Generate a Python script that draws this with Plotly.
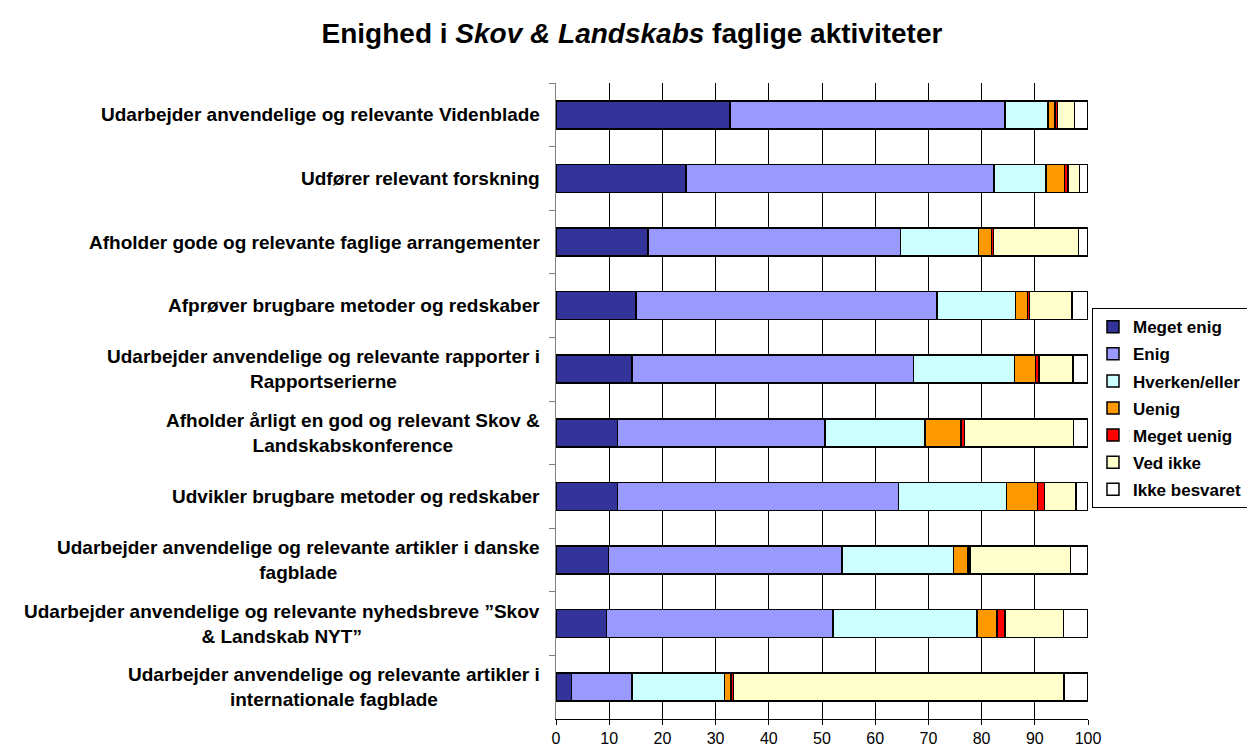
import plotly.graph_objects as go

# activities, top to bottom
labels = [
    "Udarbejder anvendelige og relevante Videnblade",
    "Udfører relevant forskning",
    "Afholder gode og relevante faglige arrangementer",
    "Afprøver brugbare metoder og redskaber",
    "Udarbejder anvendelige og relevante rapporter i<br>Rapportserierne",
    "Afholder årligt en god og relevant Skov &<br>Landskabskonference",
    "Udvikler brugbare metoder og redskaber",
    "Udarbejder anvendelige og relevante artikler i danske<br>fagblade",
    "Udarbejder anvendelige og relevante nyhedsbreve \u201dSkov<br>& Landskab NYT\u201d",
    "Udarbejder anvendelige og relevante artikler i<br>internationale fagblade",
]

meget_enig = [32.7, 24.4, 17.3, 15.0, 14.3, 11.6, 11.6, 9.9, 9.5, 2.9]
enig = [51.7, 57.9, 47.5, 56.6, 52.9, 39.0, 52.8, 43.9, 42.6, 11.4]
hverken = [8.1, 9.8, 14.6, 14.8, 19.0, 18.8, 20.3, 20.9, 27.0, 17.4]
uenig = [1.3, 3.5, 2.5, 2.2, 3.9, 6.7, 5.8, 2.7, 3.8, 1.2]
meget_uenig = [0.5, 0.6, 0.3, 0.4, 0.7, 0.7, 1.3, 0.4, 1.5, 0.5]
ved_ikke = [3.2, 2.2, 16.0, 8.0, 6.4, 20.5, 5.9, 18.9, 11.0, 62.1]
ikke_besvaret = [2.5, 1.6, 1.8, 3.0, 2.8, 2.7, 2.3, 3.3, 4.6, 4.5]

series = [
    ("Meget enig", meget_enig, "#333399"),
    ("Enig", enig, "#9999FF"),
    ("Hverken/eller", hverken, "#CCFFFF"),
    ("Uenig", uenig, "#FF9900"),
    ("Meget uenig", meget_uenig, "#FF0000"),
    ("Ved ikke", ved_ikke, "#FFFFCC"),
    ("Ikke besvaret", ikke_besvaret, "#FFFFFF"),
]

FONT = "Liberation Sans, Arial, sans-serif"

fig = go.Figure()
for i, (name, vals, col) in enumerate(series):
    fig.add_trace(go.Bar(
        y=labels, x=vals, name="<b>" + name + "</b>", orientation="h",
        marker=dict(color=col, line=dict(color="black", width=1.5)),
        legendgroup=str(i),
    ))

for lab in labels:
    fig.add_annotation(
        x=-0.027, xref="paper", y=lab, yref="y",
        text="<b>" + lab + "</b>", showarrow=False,
        xanchor="right", align="center",
        font=dict(family=FONT, size=19, color="black"),
    )

# page body has an 8px margin, so the figure starts 8px in from the top-left
fig.update_layout(
    barmode="stack",
    bargap=0.56,
    width=1247, height=743,
    margin=dict(l=548, r=167, t=75, b=32, autoexpand=False),
    plot_bgcolor="white", paper_bgcolor="white",
    font=dict(family=FONT, color="black"),
    title=dict(
        text="<b>Enighed i <i>Skov & Landskabs</i> faglige aktiviteter</b>",
        x=(632 - 8) / 1247, xanchor="center", y=1 - 25 / 743, yanchor="middle",
        font=dict(family=FONT, size=28, color="black"),
    ),
    legend=dict(
        x=1.0075, xanchor="left", y=0.646, yanchor="top",
        bordercolor="black", borderwidth=1,
        font=dict(family=FONT, size=17, color="black"),
        traceorder="grouped", tracegroupgap=2,
        itemwidth=30,
    ),
)

fig.update_xaxes(
    range=[0, 100], dtick=10, showgrid=True, gridcolor="black", gridwidth=1,
    showline=True, linecolor="black", linewidth=1,
    ticks="outside", ticklen=5, tickcolor="black", automargin=False,
    tickfont=dict(family=FONT, size=16, color="black"), zeroline=False,
)
fig.update_yaxes(
    categoryorder="array", categoryarray=labels, autorange="reversed",
    showticklabels=False, showline=True, linecolor="gray", linewidth=1,
    ticks="outside", tickson="boundaries", ticklen=6, tickcolor="gray",
    showgrid=False, automargin=False,
)

fig.write_html("out.html")
